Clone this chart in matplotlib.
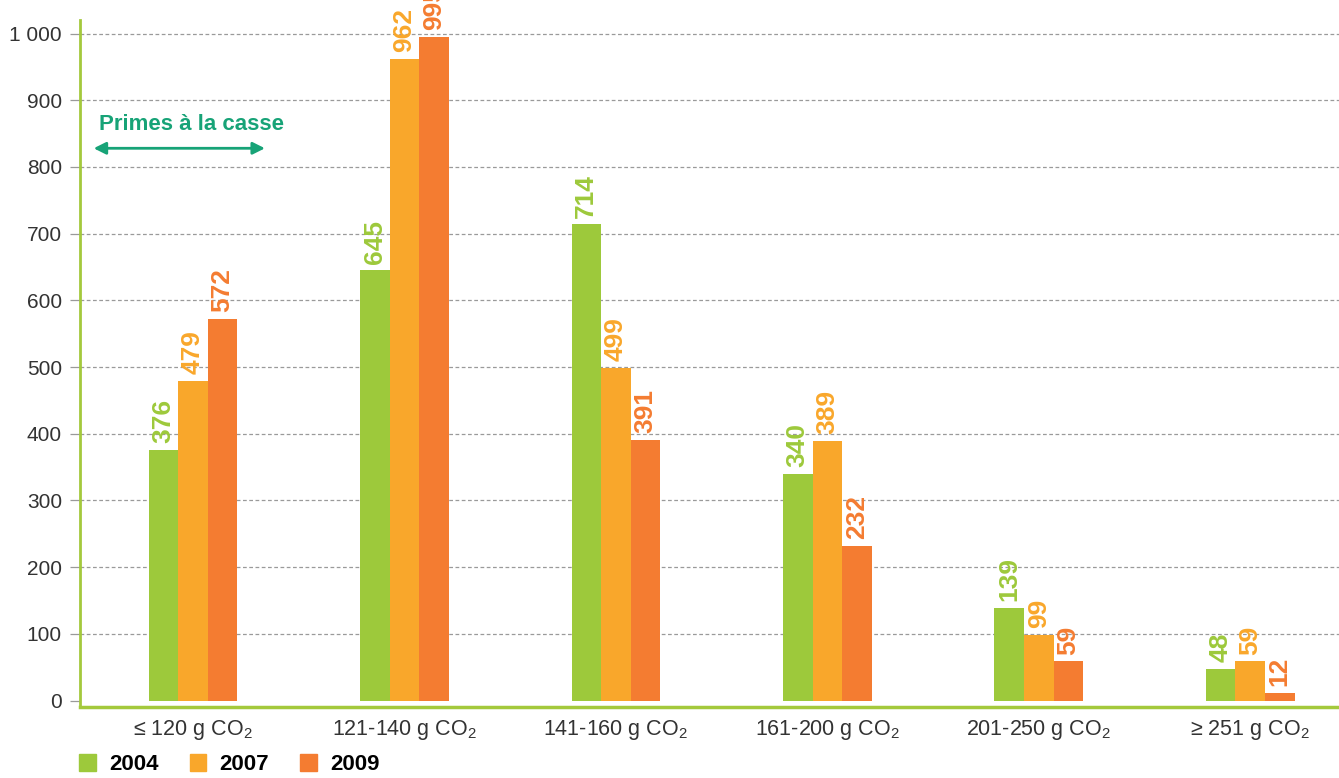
import numpy as np
import matplotlib.pyplot as plt
from matplotlib.patches import Patch

plt.rcParams['font.family'] = ['Liberation Sans', 'DejaVu Sans']
plt.rcParams['mathtext.fontset'] = 'custom'
plt.rcParams['mathtext.rm'] = 'Liberation Sans'
plt.rcParams['mathtext.default'] = 'regular'

categories = ['≤ 120 g CO$_2$', '121-140 g CO$_2$', '141-160 g CO$_2$',
              '161-200 g CO$_2$', '201-250 g CO$_2$', '≥ 251 g CO$_2$']
years = ['2004', '2007', '2009']
v2004 = [376, 645, 714, 340, 139, 48]
v2007 = [479, 962, 499, 389, 99, 59]
v2009 = [572, 995, 391, 232, 59, 12]
yticks = [0, 100, 200, 300, 400, 500, 600, 700, 800, 900, 1000]
ytick_labels = ['0', '100', '200', '300', '400', '500', '600', '700', '800', '900', '1 000']

colors = ['#9dc93b', '#f9a72b', '#f47c31']
axis_green = '#a4c93c'
note_green = '#17a377'

fig = plt.figure(figsize=(13.39, 7.78), dpi=100)
ax = fig.add_axes([0.0597, 0.091, 0.9403, 0.883])

x = np.arange(len(categories))
w = 0.14
for i, (vals, c) in enumerate(zip([v2004, v2007, v2009], colors)):
    pos = x + (i - 1) * w
    ax.bar(pos, vals, width=w, color=c, zorder=3)
    for px, v in zip(pos, vals):
        # the tallest label runs off the top edge, as in the source
        ax.text(px, v + 10, str(v), rotation=90, ha='center', va='bottom',
                color=c, fontsize=19, fontweight='bold', clip_on=False)

ax.set_xlim(-0.535, 5.42)
ax.set_ylim(-10, 1020)
ax.set_yticks(yticks)
ax.set_yticklabels(ytick_labels)
ax.set_xticks(x)
ax.set_xticklabels(categories)
ax.tick_params(axis='both', labelcolor='#333333')
ax.tick_params(axis='x', length=0, labelsize=15.5, pad=8)
ax.tick_params(axis='y', length=7, width=0.9, color='#9a9a9a', labelsize=15, pad=6)

for yv in yticks[1:]:
    ax.axhline(yv, color='#9a9a9a', lw=0.9, ls=(0, (3, 2)), zorder=1)

for s in ['top', 'right']:
    ax.spines[s].set_visible(False)
ax.spines['left'].set_color(axis_green)
ax.spines['bottom'].set_color(axis_green)
ax.spines['left'].set_linewidth(2)
ax.spines['bottom'].set_linewidth(2.5)

ax.annotate('', xy=(-0.47, 828), xytext=(0.34, 828),
            arrowprops=dict(arrowstyle='<|-|>', color=note_green, lw=2,
                            mutation_scale=18, shrinkA=0, shrinkB=0))
ax.text(-0.445, 864, 'Primes à la casse', color=note_green, fontsize=16,
        fontweight='bold', ha='left', va='center')

handles = [Patch(color=c) for c in colors]
fig.legend(handles, years, loc='lower left', bbox_to_anchor=(0.044, -0.022),
           ncol=3, frameon=False, prop={'weight': 'bold', 'size': 16},
           handlelength=0.75, handleheight=0.75, handletextpad=0.6, columnspacing=1.4)

fig.savefig('out.png', dpi=100)
